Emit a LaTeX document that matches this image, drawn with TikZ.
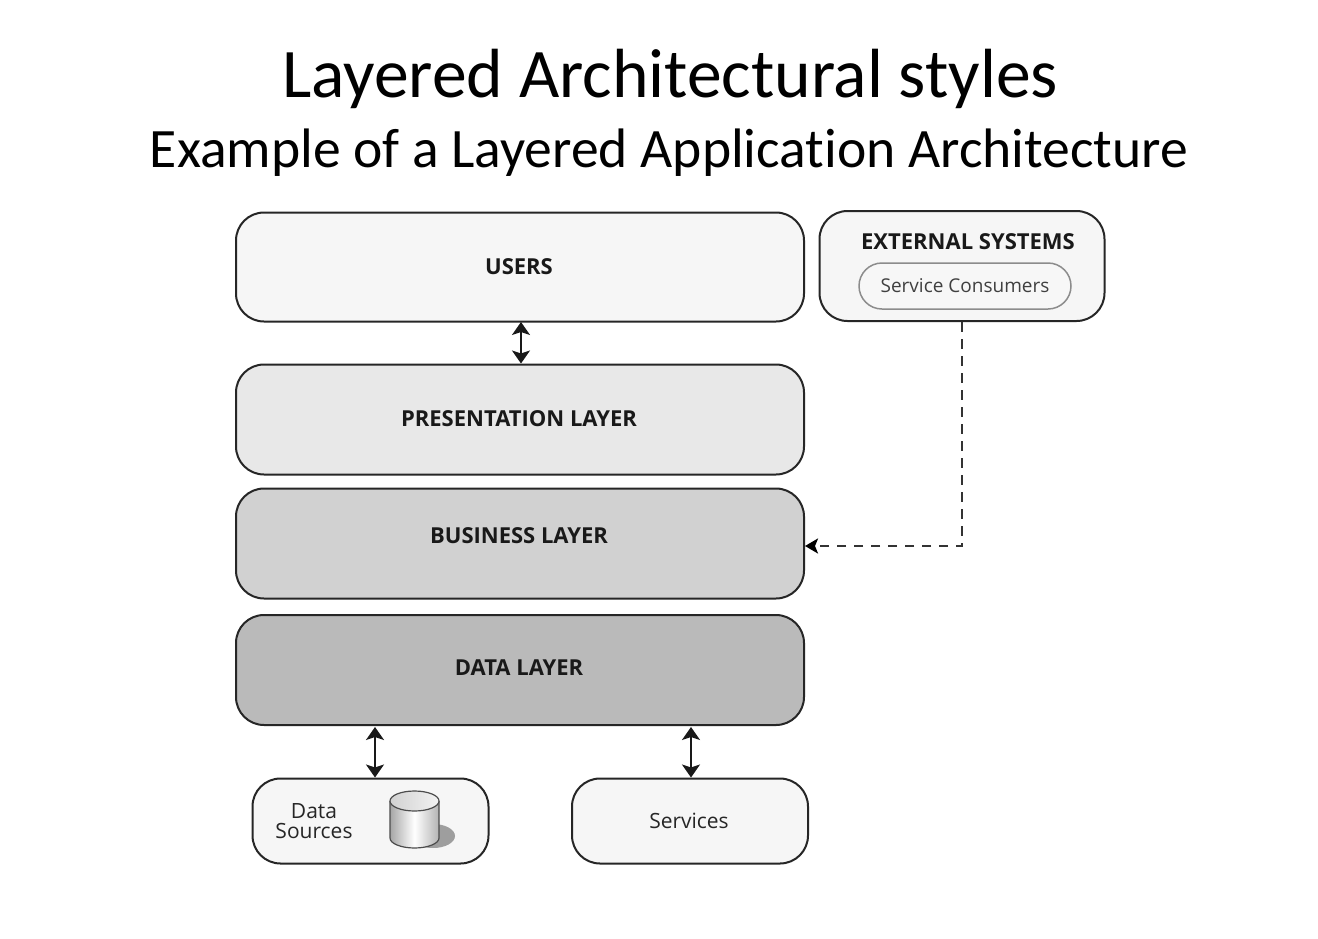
\documentclass[tikz,border=0pt]{standalone}
\usepackage{fontspec}
\setmainfont{Carlito}[Ligatures=NoCommon]
\newfontfamily\bodyf{Open Sans}
\usetikzlibrary{arrows.meta,positioning,calc}
\definecolor{cusers}{gray}{0.965}
\definecolor{cpres}{gray}{0.91}
\definecolor{cbiz}{gray}{0.82}
\definecolor{cdata}{gray}{0.73}
\tikzset{
 x=1pt,y=-1pt,
 layerbox/.style={draw=black!85,line width=2pt,rounded corners=28pt,inner sep=0pt},
 ttl/.style={inner sep=0pt,font=\bodyf\bfseries\fontsize{22}{24}\selectfont,text=black!90},
 lbl/.style={inner sep=0pt,font=\bodyf\fontsize{21}{20}\selectfont,text=black!85,align=center},
 dbl/.style={{Stealth[length=13pt,width=18pt,inset=3pt]}-{Stealth[length=13pt,width=18pt,inset=3pt]},line width=2pt,black!90},
}
\begin{document}
\begin{tikzpicture}
\useasboundingbox (0,0) rectangle (1318,938);
\fill[white] (0,0) rectangle (1318,938);
\node[inner sep=0pt,font=\fontsize{69.6}{76}\selectfont] (t1) at (670,79) {Layered Architectural styles};
\node[inner sep=0pt,font=\fontsize{55.6}{62}\selectfont] (t2) at (669,153) {Example of a Layered Application Architecture};
\node[layerbox,fill=cusers,minimum width=568pt,minimum height=109pt] (users) at (520,267) {};
\node[layerbox,fill=cpres,minimum width=568pt,minimum height=110pt] (pres) at (520,419.5) {};
\node[layerbox,fill=cbiz,minimum width=568pt,minimum height=110pt] (biz) at (520,543.5) {};
\node[layerbox,fill=cdata,minimum width=568pt,minimum height=110pt] (data) at (520,670) {};
\node[layerbox,fill=cusers,minimum width=285pt,minimum height=110pt] (ext) at (962,266) {};
\node[layerbox,fill=cusers,minimum width=236pt,minimum height=85pt] (ds) at (370.5,821) {};
\node[layerbox,fill=cusers,minimum width=236pt,minimum height=85pt] (svc) at (690,821) {};
\node[ttl] (lu) at (519,267) {USERS};
\node[ttl] (lp) at (519,419) {PRESENTATION LAYER};
\node[ttl] (lb) at (519,536) {BUSINESS LAYER};
\node[ttl] (ld) at (519,668) {DATA LAYER};
\node[ttl] (le) at (968,242) {EXTERNAL SYSTEMS};
\node[draw=black!45,fill=white!97!black,line width=1.5pt,rounded corners=23pt,minimum width=212pt,minimum height=46pt,inner sep=0pt] (sc) at (965,286) {};
\node[lbl,font=\bodyf\fontsize{19}{20}\selectfont,text=black!75] (lsc) at (965,286) {Service Consumers};
\node[lbl] (lds) at (314,821) {Data\\Sources};
\node[lbl] (lsv) at (689,821) {Services};
% cylinder
\fill[black!38] (433,836) ellipse [x radius=22pt,y radius=12pt];
\shade[left color=black!35,right color=black!30,middle color=white] (390,801) -- (390,838) arc[start angle=180,end angle=360,x radius=24.5pt,y radius=10pt] -- (439,801) arc[start angle=360,end angle=180,x radius=24.5pt,y radius=10pt] -- cycle;
\draw[black!70,line width=1.2pt] (390,801) -- (390,838) arc[start angle=180,end angle=360,x radius=24.5pt,y radius=10pt] -- (439,801);
\draw[black!70,line width=1.2pt,left color=black!18,right color=black!5] (414.5,801) ellipse [x radius=24.5pt,y radius=10pt];
% connectors
\coordinate (a1) at (521,322);
\draw[dbl] (a1) -- (a1 |- pres.north);
\coordinate (a2) at (375,727);
\draw[dbl] (a2) -- (a2 |- ds.north);
\coordinate (a3) at (691,727);
\draw[dbl] (a3) -- (a3 |- svc.north);
\coordinate (e) at (962,546);
\draw[dash pattern=on 9.5pt off 7.5pt,line width=2.4pt,black!80,-{Stealth[length=13pt,width=15pt,inset=3pt,black]}] (ext.south -| e) -- (e) -- (biz.east |- e);
\end{tikzpicture}
\end{document}
